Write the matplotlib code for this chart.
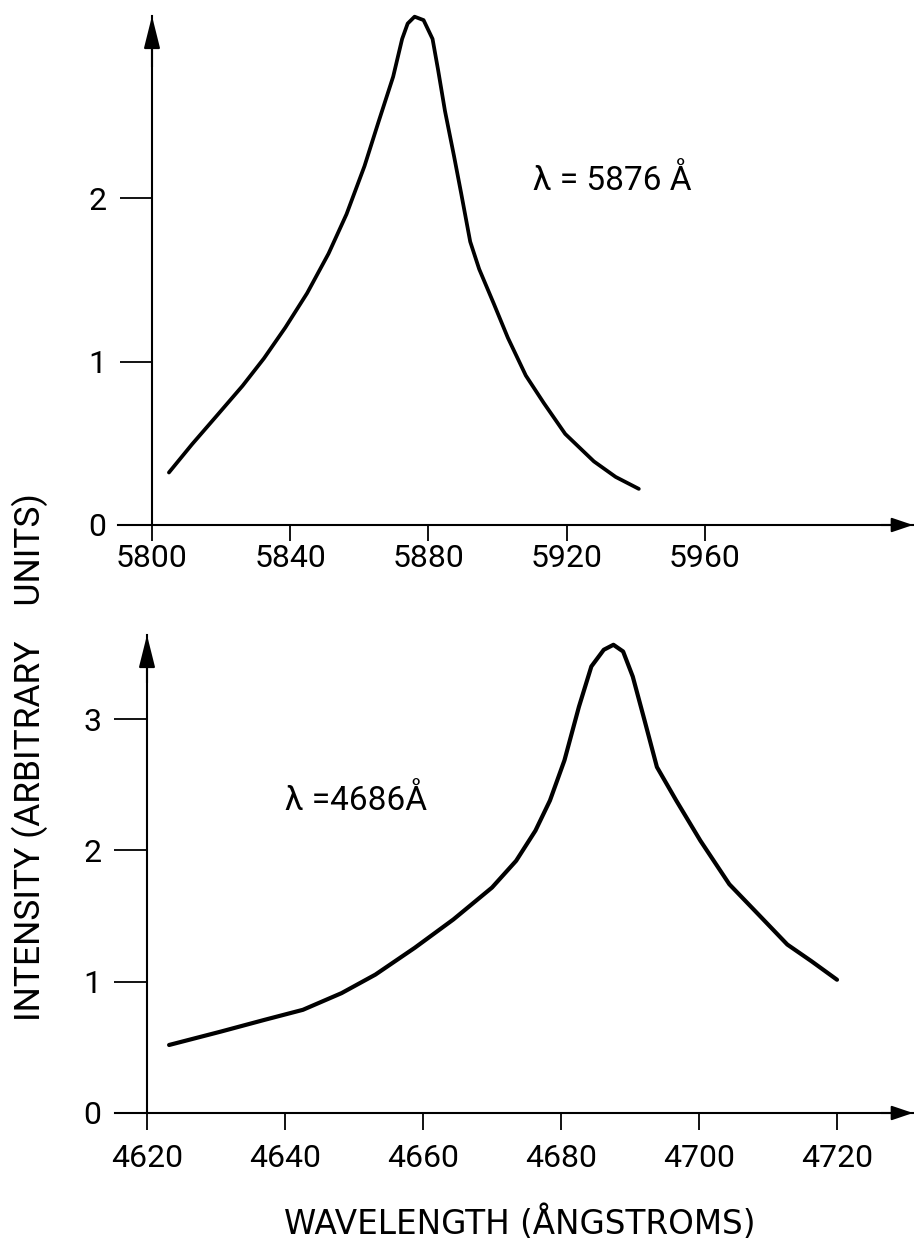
import matplotlib
matplotlib.use("Agg")
import matplotlib.pyplot as plt

plt.rcParams['font.family'] = ['Roboto', 'DejaVu Sans']

# ---------------- data ----------------
top_wavelength = [5804.9, 5811.6, 5818.9, 5826.2, 5832.4, 5838.6, 5844.9, 5851.1,
                  5856.3, 5861.5, 5865.6, 5869.8, 5872.4, 5874.0, 5876.0, 5878.6,
                  5881.2, 5882.8, 5884.8, 5887.4, 5889.5, 5892.1, 5894.7, 5898.9,
                  5903.0, 5908.2, 5913.4, 5919.6, 5927.9, 5934.2, 5940.9]
top_intensity = [0.321, 0.494, 0.672, 0.851, 1.019, 1.208, 1.418, 1.660,
                 1.901, 2.195, 2.468, 2.742, 2.973, 3.067, 3.109, 3.088,
                 2.973, 2.784, 2.532, 2.258, 2.027, 1.733, 1.565, 1.355,
                 1.145, 0.914, 0.746, 0.557, 0.389, 0.294, 0.221]
top_xticks = [5800, 5840, 5880, 5920, 5960]
top_yticks = [0, 1, 2]
top_label = "λ = 5876 Å"

bot_wavelength = [4623.2, 4630.7, 4637.0, 4642.6, 4648.2, 4653.1, 4658.8, 4664.4,
                  4670.0, 4673.5, 4676.3, 4678.4, 4680.5, 4682.6, 4684.4, 4686.2,
                  4687.6, 4689.0, 4690.4, 4692.1, 4693.9, 4696.7, 4700.2, 4704.4,
                  4708.6, 4712.8, 4716.3, 4720.0]
bot_intensity = [0.518, 0.620, 0.709, 0.786, 0.913, 1.054, 1.258, 1.474,
                 1.717, 1.921, 2.151, 2.380, 2.686, 3.094, 3.401, 3.528,
                 3.566, 3.515, 3.324, 2.992, 2.635, 2.380, 2.074, 1.742,
                 1.513, 1.283, 1.156, 1.015]
bot_xticks = [4620, 4640, 4660, 4680, 4700, 4720]
bot_yticks = [0, 1, 2, 3]
bot_label = "λ =4686Å"

xlabel = "WAVELENGTH (ÅNGSTROMS)"
ylabel = "INTENSITY (ARBITRARY    UNITS)"

# ---------------- layout ----------------
W, H = 914, 1245
fig = plt.figure(figsize=(W / 100, H / 100), dpi=100)


def px_axes(left, right, top, bottom):
    return fig.add_axes([left / W, 1 - bottom / H, (right - left) / W, (bottom - top) / H])


def setup(ax, x0, xlim, ylim, xticks, yticks, ylen, ypad, xlen, xpad):
    ax.set_xlim(xlim)
    ax.set_ylim(ylim)
    ax.patch.set_visible(False)
    for s in ['top', 'right']:
        ax.spines[s].set_visible(False)
    ax.spines['left'].set_position(('data', x0))
    ax.spines['bottom'].set_position(('data', 0))
    for s in ['left', 'bottom']:
        ax.spines[s].set_linewidth(1.5)
    ax.set_xticks(xticks)
    ax.set_yticks(yticks)
    ax.set_xticklabels([str(t) for t in xticks])
    ax.set_yticklabels([str(t) for t in yticks])
    ax.tick_params(axis='y', direction='out', length=ylen, width=1.3, pad=ypad, labelsize=23)
    ax.tick_params(axis='x', direction='out', length=xlen, width=1.3, pad=xpad, labelsize=23)
    # arrowheads on the axis ends
    ax.annotate('', xy=(1, 0), xycoords=('axes fraction', 'data'),
                xytext=(0.96, 0), textcoords=('axes fraction', 'data'),
                arrowprops=dict(arrowstyle='-|>,head_length=0.65,head_width=0.22',
                                mutation_scale=20, color='k', lw=1.5,
                                shrinkA=0, shrinkB=0))
    ax.annotate('', xy=(x0, 1), xycoords=('data', 'axes fraction'),
                xytext=(x0, 0.9), textcoords=('data', 'axes fraction'),
                arrowprops=dict(arrowstyle='-|>,head_length=1.0,head_width=0.25',
                                mutation_scale=20, color='k', lw=1.5,
                                shrinkA=0, shrinkB=0))


# top panel
ax1 = px_axes(118, 913, 16, 525)
setup(ax1, 5800, (5800 + (118 - 152) / 3.455, 5800 + (913 - 152) / 3.455),
      (0, (525 - 16) / 163.5), top_xticks, top_yticks, 23, 10, 11.5, 2)
ax1.plot(top_wavelength, top_intensity, color='k', lw=2.7, clip_on=False,
         solid_capstyle='round', solid_joinstyle='round')

# bottom panel
ax2 = px_axes(115, 913, 635, 1113)
setup(ax2, 4620, (4620 + (115 - 147) / 6.9, 4620 + (913 - 147) / 6.9),
      (0, (1113 - 635) / 131.3), bot_xticks, bot_yticks, 24, 9, 12, 10)
ax2.plot(bot_wavelength, bot_intensity, color='k', lw=3.0, clip_on=False,
         solid_capstyle='round', solid_joinstyle='round')

# annotations
fig.text(612 / W, 1 - 181 / H, top_label, ha='center', va='center', fontsize=24)
fig.text(356 / W, 1 - 801 / H, bot_label, ha='center', va='center', fontsize=24)

fig.text(520 / W, 1 - 1223 / H, xlabel, ha='center', va='center', fontsize=23.5,
         family=['DejaVu Sans'])
fig.text(29.5 / W, 1 - 757 / H, ylabel, ha='center', va='center', fontsize=25.5,
         rotation=90)

fig.savefig("out.png", dpi=100)
